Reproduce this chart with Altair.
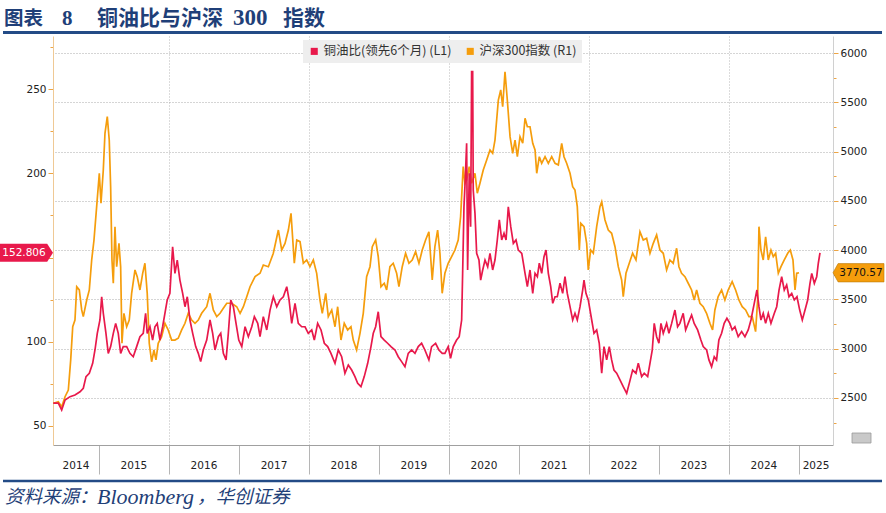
import altair as alt
import numpy as np
import pandas as pd

# ---- series: decimal-year time stamps and values ----
csi_t = [2014.347, 2014.419, 2014.467, 2014.515, 2014.562, 2014.596, 2014.625, 2014.657, 2014.682, 2014.719,
         2014.753, 2014.776, 2014.825, 2014.862, 2014.896, 2014.929, 2014.967, 2015.005, 2015.029, 2015.062,
         2015.086, 2015.119, 2015.147, 2015.167, 2015.186, 2015.205, 2015.229, 2015.253, 2015.286, 2015.310,
         2015.329, 2015.357, 2015.396, 2015.433, 2015.467, 2015.515, 2015.547, 2015.586, 2015.625, 2015.657,
         2015.690, 2015.719, 2015.753, 2015.786, 2015.815, 2015.847, 2015.896, 2015.943, 2015.990, 2016.039,
         2016.086, 2016.133, 2016.182, 2016.229, 2016.276, 2016.325, 2016.372, 2016.419, 2016.467, 2016.539,
         2016.586, 2016.633, 2016.682, 2016.729, 2016.776, 2016.825, 2016.896, 2016.967, 2017.015, 2017.062,
         2017.110, 2017.157, 2017.229, 2017.300, 2017.347, 2017.419, 2017.490, 2017.562, 2017.610, 2017.657,
         2017.705, 2017.743, 2017.790, 2017.825, 2017.872, 2017.919, 2017.967, 2018.014, 2018.062, 2018.110,
         2018.157, 2018.190, 2018.239, 2018.276, 2018.325, 2018.372, 2018.410, 2018.457, 2018.504, 2018.553,
         2018.600, 2018.633, 2018.681, 2018.729, 2018.776, 2018.824, 2018.872, 2018.905, 2018.953, 2018.990,
         2019.029, 2019.076, 2019.110, 2019.157, 2019.204, 2019.253, 2019.286, 2019.333, 2019.381, 2019.429,
         2019.476, 2019.524, 2019.572, 2019.619, 2019.667, 2019.714, 2019.762, 2019.800, 2019.839, 2019.872,
         2019.904, 2019.943, 2019.990, 2020.039, 2020.086, 2020.133, 2020.167, 2020.204, 2020.229, 2020.253,
         2020.290, 2020.324, 2020.372, 2020.405, 2020.443, 2020.490, 2020.539, 2020.586, 2020.624, 2020.657,
         2020.705, 2020.739, 2020.767, 2020.800, 2020.833, 2020.872, 2020.910, 2020.943, 2020.976, 2021.014,
         2021.053, 2021.086, 2021.119, 2021.157, 2021.196, 2021.229, 2021.253, 2021.290, 2021.324, 2021.372,
         2021.419, 2021.467, 2021.515, 2021.562, 2021.610, 2021.643, 2021.681, 2021.729, 2021.767, 2021.800,
         2021.833, 2021.862, 2021.882, 2021.929, 2021.967, 2021.990, 2022.024, 2022.062, 2022.110, 2022.157,
         2022.182, 2022.229, 2022.276, 2022.324, 2022.372, 2022.419, 2022.467, 2022.490, 2022.529, 2022.576,
         2022.624, 2022.672, 2022.729, 2022.776, 2022.824, 2022.872, 2022.919, 2022.967, 2023.015, 2023.062,
         2023.110, 2023.157, 2023.204, 2023.253, 2023.286, 2023.324, 2023.372, 2023.419, 2023.467, 2023.504,
         2023.539, 2023.586, 2023.633, 2023.681, 2023.729, 2023.767, 2023.800, 2023.847, 2023.896, 2023.943,
         2023.990, 2024.047, 2024.096, 2024.143, 2024.190, 2024.239, 2024.286, 2024.333, 2024.381, 2024.410,
         2024.429, 2024.457, 2024.490, 2024.524, 2024.562, 2024.600, 2024.633, 2024.667, 2024.705, 2024.743,
         2024.790, 2024.839, 2024.876, 2024.914, 2024.943, 2024.967, 2025.000]
csi_v = [2446, 2462, 2412, 2513, 2581, 2886, 3223, 3291, 3629, 3596,
         3393, 3325, 3494, 3596, 3900, 4103, 4441, 4780, 4475, 4813,
         5185, 5354, 5117, 4644, 3900, 3664, 4238, 3832, 4069, 3832,
         3055, 3359, 3223, 3291, 3562, 3799, 3731, 3596, 3765, 3867,
         3562, 3055, 2868, 2987, 2886, 3055, 3122, 3258, 3190, 3088,
         3088, 3106, 3190, 3258, 3359, 3291, 3258, 3291, 3359, 3426,
         3562, 3393, 3325, 3359, 3410, 3461, 3461, 3426, 3359, 3426,
         3528, 3629, 3731, 3765, 3849, 3832, 3968, 4204, 4001, 4069,
         4204, 4374, 3867, 4103, 4086, 3867, 3900, 3832, 3900, 3765,
         3494, 3359, 3562, 3325, 3393, 3223, 3426, 3088, 3258, 3190,
         3223, 3088, 2987, 3156, 3359, 3731, 3832, 4035, 4103, 3934,
         3629, 3664, 3596, 3832, 3867, 3765, 3629, 3832, 3968, 3867,
         3900, 3984, 3867, 4001, 4103, 4187, 3697, 4035, 4204, 3968,
         3562, 3765, 3867, 3934, 4001, 4103, 4339, 4847, 4678, 4712,
         4847, 4678, 4780, 4577, 4678, 4813, 4915, 5016, 4982, 5117,
         5523, 5625, 5455, 5810, 5523, 5151, 4982, 5117, 4948, 5151,
         5084, 5338, 5252, 5252, 5084, 5016, 4780, 4948, 4881, 4948,
         4881, 4948, 4881, 4864, 5084, 4948, 4881, 4780, 4644, 4610,
         4441, 4001, 4272, 4238, 4069, 3799, 4001, 3968, 4238, 4441,
         4491, 4306, 4204, 4171, 4035, 3832, 3697, 3528, 3765, 3867,
         3968, 3900, 4187, 4103, 4120, 3968, 4069, 4154, 4001, 3968,
         3799, 3900, 3867, 4019, 3832, 3765, 3731, 3664, 3596, 3494,
         3596, 3461, 3426, 3359, 3258, 3190, 3393, 3528, 3596, 3494,
         3596, 3680, 3596, 3494, 3426, 3393, 3325, 3325, 3173, 3494,
         4238, 4001, 3900, 4136, 3900, 4001, 3934, 3968, 3765, 3832,
         3900, 3968, 4001, 3900, 3596, 3765, 3770.57]

ratio_t = [2014.347, 2014.419, 2014.467, 2014.515, 2014.586, 2014.657, 2014.729, 2014.776, 2014.815, 2014.862,
           2014.910, 2014.943, 2014.976, 2015.014, 2015.039, 2015.062, 2015.100, 2015.133, 2015.167, 2015.205,
           2015.239, 2015.276, 2015.310, 2015.347, 2015.396, 2015.443, 2015.490, 2015.539, 2015.586, 2015.633,
           2015.667, 2015.690, 2015.729, 2015.767, 2015.800, 2015.833, 2015.872, 2015.910, 2015.943, 2015.976,
           2016.014, 2016.053, 2016.086, 2016.119, 2016.157, 2016.196, 2016.229, 2016.262, 2016.300, 2016.339,
           2016.382, 2016.419, 2016.453, 2016.490, 2016.539, 2016.586, 2016.624, 2016.657, 2016.705, 2016.739,
           2016.776, 2016.815, 2016.847, 2016.882, 2016.919, 2016.957, 2016.996, 2017.039, 2017.086, 2017.133,
           2017.182, 2017.219, 2017.267, 2017.300, 2017.347, 2017.396, 2017.443, 2017.490, 2017.539, 2017.586,
           2017.633, 2017.682, 2017.715, 2017.753, 2017.800, 2017.847, 2017.896, 2017.943, 2017.990, 2018.039,
           2018.076, 2018.124, 2018.172, 2018.219, 2018.267, 2018.314, 2018.372, 2018.419, 2018.467, 2018.514,
           2018.562, 2018.610, 2018.657, 2018.696, 2018.743, 2018.790, 2018.839, 2018.886, 2018.919, 2018.953,
           2018.990, 2019.029, 2019.076, 2019.124, 2019.172, 2019.229, 2019.276, 2019.324, 2019.372, 2019.419,
           2019.467, 2019.515, 2019.562, 2019.610, 2019.657, 2019.714, 2019.753, 2019.810, 2019.857, 2019.905,
           2019.943, 2019.990, 2020.024, 2020.062, 2020.110, 2020.147, 2020.182, 2020.196, 2020.215, 2020.233,
           2020.253, 2020.267, 2020.290, 2020.310, 2020.324, 2020.339, 2020.347, 2020.372, 2020.396, 2020.429,
           2020.453, 2020.482, 2020.515, 2020.553, 2020.586, 2020.624, 2020.657, 2020.690, 2020.719, 2020.753,
           2020.786, 2020.815, 2020.847, 2020.882, 2020.919, 2020.957, 2020.990, 2021.039, 2021.086, 2021.119,
           2021.157, 2021.196, 2021.229, 2021.262, 2021.290, 2021.324, 2021.357, 2021.386, 2021.419, 2021.453,
           2021.482, 2021.515, 2021.547, 2021.586, 2021.624, 2021.657, 2021.690, 2021.729, 2021.767, 2021.800,
           2021.833, 2021.872, 2021.910, 2021.929, 2021.957, 2021.990, 2022.039, 2022.072, 2022.110, 2022.147,
           2022.182, 2022.215, 2022.253, 2022.290, 2022.324, 2022.357, 2022.396, 2022.443, 2022.490, 2022.539,
           2022.576, 2022.624, 2022.672, 2022.705, 2022.753, 2022.790, 2022.839, 2022.872, 2022.905, 2022.933,
           2022.967, 2023.000, 2023.029, 2023.062, 2023.110, 2023.143, 2023.182, 2023.229, 2023.267, 2023.300,
           2023.347, 2023.382, 2023.419, 2023.467, 2023.504, 2023.553, 2023.600, 2023.633, 2023.682, 2023.715,
           2023.753, 2023.791, 2023.824, 2023.857, 2023.896, 2023.933, 2023.972, 2024.014, 2024.047, 2024.086,
           2024.133, 2024.182, 2024.229, 2024.276, 2024.315, 2024.362, 2024.400, 2024.429, 2024.457, 2024.490,
           2024.524, 2024.562, 2024.600, 2024.648, 2024.682, 2024.715, 2024.753, 2024.790, 2024.824, 2024.857,
           2024.896, 2024.933, 2024.971, 2025.010, 2025.047, 2025.086, 2025.124, 2025.157, 2025.182, 2025.219,
           2025.253, 2025.276, 2025.300]
ratio_v = [63.5, 63.5, 59.5, 65.4, 67.4, 68.4, 70.3, 72.4, 79.3, 81.3,
           87.2, 95.1, 105.0, 112.9, 126.7, 116.9, 105.0, 93.1, 97.1, 105.0,
           110.9, 105.0, 93.1, 97.1, 97.1, 93.1, 91.1, 97.1, 103.0, 105.0,
           116.9, 105.0, 108.9, 101.0, 108.9, 110.9, 101.0, 108.9, 116.9, 124.8,
           128.7, 156.4, 140.6, 148.5, 136.6, 128.7, 120.8, 126.7, 112.9, 105.0,
           97.1, 93.1, 88.2, 95.1, 101.0, 112.9, 105.0, 95.1, 103.0, 105.0,
           93.1, 89.2, 105.0, 124.8, 120.8, 110.9, 101.0, 97.1, 108.9, 103.0,
           108.9, 114.9, 110.9, 103.0, 114.9, 107.0, 118.8, 126.7, 120.8, 124.8,
           126.7, 132.7, 124.8, 110.9, 122.8, 110.9, 108.9, 108.9, 105.0, 107.0,
           101.0, 110.9, 107.0, 99.1, 97.1, 93.1, 87.2, 95.1, 91.1, 81.3,
           86.2, 83.2, 79.3, 75.3, 73.3, 79.3, 87.2, 97.1, 105.0, 108.9,
           117.8, 103.0, 101.0, 99.1, 97.1, 95.1, 91.1, 88.2, 85.2, 93.1,
           95.1, 93.1, 97.1, 99.1, 95.1, 89.2, 97.1, 99.1, 95.1, 93.1,
           93.1, 97.1, 90.2, 97.1, 101.0, 103.0, 112.9, 140.6, 180.1, 196.0,
           217.8, 142.6, 200.0, 168.3, 260.3, 260.3, 190.1, 176.2, 152.5, 148.5,
           136.6, 142.6, 148.5, 144.5, 152.5, 142.6, 148.5, 160.4, 172.3, 160.4,
           164.4, 160.4, 180.1, 168.3, 158.4, 160.4, 154.4, 152.5, 140.6, 132.7,
           142.6, 128.7, 140.6, 138.6, 146.6, 140.6, 150.5, 154.4, 140.6, 132.7,
           122.8, 126.7, 126.7, 134.7, 128.7, 138.6, 128.7, 120.8, 112.9, 116.9,
           112.9, 120.8, 130.7, 136.6, 128.7, 124.8, 112.9, 105.0, 107.0, 99.1,
           81.3, 97.1, 89.2, 97.1, 89.2, 83.2, 81.3, 77.3, 73.3, 69.4,
           75.3, 83.2, 81.3, 87.2, 79.3, 81.3, 79.3, 87.2, 95.1, 110.9,
           103.0, 99.1, 110.9, 105.0, 110.9, 105.0, 110.9, 118.8, 108.9, 110.9,
           116.9, 107.0, 110.9, 115.9, 110.9, 107.0, 101.0, 97.1, 95.1, 89.2,
           85.2, 91.1, 89.2, 101.0, 105.0, 110.9, 113.9, 110.9, 107.0, 108.9,
           103.0, 106.0, 103.0, 107.0, 112.9, 122.8, 130.7, 120.8, 112.9, 116.9,
           110.9, 116.9, 110.9, 116.9, 120.8, 130.7, 138.6, 130.7, 133.7, 126.7,
           128.7, 124.8, 126.7, 118.8, 112.9, 118.8, 124.8, 134.7, 140.6, 134.7,
           138.6, 146.6, 152.806]

series_names = ["铜油比(领先6个月) (L1)", "沪深300指数 (R1)"]
years = list(range(2014, 2026))
left_ticks = list(range(50, 276, 25))
right_ticks = list(range(2250, 6001, 250))

RED = "#e8194b"
ORANGE = "#f59d0c"
NAVY = "#1f3f78"
AXIS_FONT = "DejaVu Sans"
CJK = "Noto Sans CJK SC"


def to_date(t):
    y = int(np.floor(t))
    start = pd.Timestamp(year=y, month=1, day=1)
    end = pd.Timestamp(year=y + 1, month=1, day=1)
    return start + (end - start) * (t - y)


def dt(ts):
    return alt.DateTime(year=ts.year, month=ts.month, date=ts.day, hours=ts.hour)


ratio_df = pd.DataFrame({"date": [to_date(t) for t in ratio_t], "value": ratio_v})
csi_df = pd.DataFrame({"date": [to_date(t) for t in csi_t], "value": csi_v})

x_start, x_end = to_date(2014.343), to_date(2025.486)

# year labels sit in the middle of the visible part of each calendar year
year_rows = []
for y in years:
    s = max(pd.Timestamp(year=y, month=1, day=1), x_start)
    e = min(pd.Timestamp(year=y + 1, month=1, day=1), x_end)
    year_rows.append({"date": s + (e - s) / 2, "label": str(y)})
year_df = pd.DataFrame(year_rows)

W, H = 780, 409

x_axis = alt.Axis(
    values=[alt.DateTime(year=y, month=1, date=1) for y in years[1:]],
    labels=False, title=None,
    tickSize=29, tickColor="#b5b5b5", tickWidth=1,
    domainColor="#a0a0a0", domainWidth=1,
    grid=True, gridColor="#b8b8b8", gridDash=[1, 2], gridWidth=1,
    gridOpacity={"condition": {"test": "year(datum.value) % 2 == 0", "value": 1}, "value": 0},
)
x_enc = alt.X("date:T", scale=alt.Scale(domain=[dt(x_start), dt(x_end)], nice=False), axis=x_axis, title=None)

left_axis = alt.Axis(
    orient="left", values=left_ticks, title=None, grid=False,
    labelExpr="datum.value % 50 == 0 && datum.value != 150 ? datum.label : ''",
    labelFont=AXIS_FONT, labelFontSize=10.5, labelColor="#222222", labelPadding=2,
    tickColor="#eda545", tickSize={"condition": {"test": "datum.value % 50 == 0", "value": 5}, "value": 3},
    domainColor="#efc995", domainWidth=1,
)
right_axis = alt.Axis(
    orient="right", values=right_ticks, title=None, format="d",
    labelExpr="datum.value % 500 == 0 ? datum.label : ''",
    labelFont=AXIS_FONT, labelFontSize=10.5, labelColor="#222222", labelPadding=2,
    tickColor="#eda545", tickSize={"condition": {"test": "datum.value % 500 == 0", "value": 5}, "value": 3},
    domainColor="#d0d0d0", domainWidth=1,
    grid=True, gridColor="#aaaaaa", gridDash=[1, 2], gridWidth=1,
    gridOpacity={"condition": {"test": "datum.value % 500 == 0", "value": 1}, "value": 0},
)
y_left = alt.Y("value:Q", scale=alt.Scale(domain=[38.7, 281.5], nice=False, zero=False), axis=left_axis)
y_right = alt.Y("value:Q", scale=alt.Scale(domain=[2023, 6172.5], nice=False, zero=False), axis=right_axis)

# ---- CSI 300 (right scale) ----
csi_line = alt.Chart(csi_df).mark_line(color=ORANGE, strokeWidth=1.7).encode(x=x_enc, y=y_right)
csi_last = csi_df.tail(1)
csi_tag = alt.Chart(csi_last).mark_point(
    shape="M -1 0 L -0.8 -0.36 L 1 -0.36 L 1 0.36 L -0.8 0.36 Z",
    size=2601, filled=True, fill=ORANGE, opacity=1, stroke="#b8790a", strokeWidth=0.6,
).encode(x=alt.value(W + 25.5), y=y_right)
csi_tag_text = alt.Chart(csi_last).mark_text(
    font=AXIS_FONT, fontSize=10.5, color="#111111", align="center", baseline="middle",
).encode(x=alt.value(W + 28), y=y_right, text=alt.Text("value:Q", format=".2f"))
csi_group = alt.layer(csi_line, csi_tag, csi_tag_text)

# ---- copper / oil ratio (left scale) ----
ratio_line = alt.Chart(ratio_df).mark_line(color=RED, strokeWidth=1.7).encode(x=x_enc, y=y_left)
ratio_last = ratio_df.tail(1)
ratio_tag = alt.Chart(ratio_last).mark_point(
    shape="M -1 -0.34 L 0.78 -0.34 L 1 0 L 0.78 0.34 L -1 0.34 Z",
    size=2809, filled=True, fill=RED, opacity=1, strokeWidth=0,
).encode(x=alt.value(-26.5), y=y_left)
ratio_tag_text = alt.Chart(ratio_last).mark_text(
    font=AXIS_FONT, fontSize=10.5, color="white", align="center", baseline="middle",
).encode(x=alt.value(-29), y=y_left, text=alt.Text("value:Q", format=".3f"))
ratio_group = alt.layer(ratio_line, ratio_tag, ratio_tag_text)

# ---- year labels under the time axis ----
year_text = alt.Chart(year_df).mark_text(
    font=AXIS_FONT, fontSize=10.5, color="#222222", align="center", baseline="middle",
).encode(x=x_enc, y=alt.value(H + 21), text="label:N")

# ---- legend (driven by a colour scale over the two series) ----
legend_layer = alt.Chart(pd.DataFrame({"series": series_names})).mark_square(opacity=0, size=1).encode(
    x=alt.value(0), y=alt.value(0),
    color=alt.Color("series:N", scale=alt.Scale(domain=series_names, range=[RED, ORANGE]),
                    legend=alt.Legend(
                        orient="none", legendX=250, legendY=4, direction="horizontal", title=None,
                        fillColor="#eeeeee", padding=5, symbolType="square", symbolSize=50,
                        symbolOpacity=1, symbolStrokeWidth=0, labelFont=CJK, labelFontSize=12.5,
                        labelColor="#333333", labelOffset=3, columnPadding=12, labelLimit=300,
                    )),
)

one = pd.DataFrame({"k": [0]})


def text_piece(txt, x, y, size, font=CJK, weight="normal", style="normal", color=NAVY, baseline="middle"):
    return alt.Chart(one).mark_text(
        font=font, fontSize=size, fontWeight=weight, fontStyle=style, color=color,
        align="left", baseline=baseline,
    ).encode(x=alt.value(x), y=alt.value(y), text=alt.value(txt))


def hrule(y, width):
    return alt.Chart(one).mark_rule(color="#234b86", strokeWidth=width).encode(
        x=alt.value(-50), x2=alt.value(829), y=alt.value(y))


# title pieces share one alphabetic baseline
TB = -11.3
title_parts = [
    text_piece("图表", -49, TB, 19.5, weight="bold", baseline="alphabetic"),
    text_piece("8", 9, TB, 21, font="Liberation Serif", weight="bold", baseline="alphabetic"),
    text_piece("铜油比与沪深", 44, TB, 21, weight="bold", baseline="alphabetic"),
    text_piece("300", 180, TB, 23, font="Liberation Serif", weight="bold", baseline="alphabetic"),
    text_piece("指数", 230, TB, 21, weight="bold", baseline="alphabetic"),
]
source_parts = [
    text_piece("资料来源：", -48, 461, 18.5, style="italic"),
    text_piece("Bloomberg", 44, 461, 22, font="Liberation Serif", style="italic"),
    text_piece("，华创证券", 144, 461, 18.5, style="italic"),
]

# small toolbar glyph at the lower right corner
icon = alt.Chart(one).mark_rect(fill="#c9c9c9", stroke="#9a9a9a", strokeWidth=0.8).encode(
    x=alt.value(W + 19), x2=alt.value(W + 38), y=alt.value(H - 12), y2=alt.value(H - 2))

chart = alt.layer(
    csi_group, ratio_group, year_text, legend_layer,
    hrule(-3.5, 3), hrule(445, 2.5), icon, *title_parts, *source_parts,
).resolve_scale(y="independent").properties(
    width=W, height=H,
    autosize=alt.AutoSizeParams(type="none"),
    padding={"left": 53, "top": 36, "right": 53, "bottom": 68},
    background="white",
).configure_view(stroke=None)

chart.save("out.html", embed_options={"renderer": "svg", "actions": False})
